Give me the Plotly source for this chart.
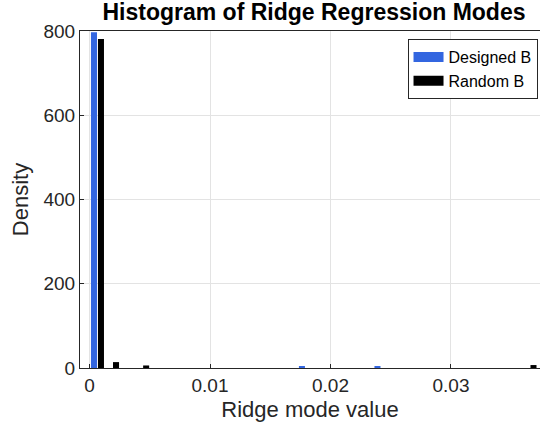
import plotly.graph_objects as go

# Data
designed_x = [0.00037, 0.01763, 0.0239]
designed_y = [797, 4, 4]
random_x = [0.00095, 0.0022, 0.0047, 0.03685]
random_y = [781, 14, 6, 7]
x_ticks = [0, 0.01, 0.02, 0.03]
x_tick_labels = ["0", "0.01", "0.02", "0.03"]
y_ticks = [0, 200, 400, 600, 800]

BLUE = "#3366e0"
BLACK = "#000000"
BAR_W = 0.0005
FONT = "Liberation Sans, Arial, Helvetica, sans-serif"

fig = go.Figure()
fig.add_trace(go.Bar(x=designed_x, y=designed_y, width=[BAR_W]*len(designed_x),
                     name="Designed B", showlegend=False, legendgroup="d",
                     marker=dict(color=BLUE, line=dict(width=0))))
fig.add_trace(go.Bar(x=random_x, y=random_y, width=[BAR_W]*len(random_x),
                     name="Random B", showlegend=False, legendgroup="r",
                     marker=dict(color=BLACK, line=dict(width=0))))
# legend entries with wide rectangular swatches
fig.add_trace(go.Scatter(x=[None], y=[None], mode="lines", name="Designed B",
                         legendgroup="d", line=dict(color=BLUE, width=14)))
fig.add_trace(go.Scatter(x=[None], y=[None], mode="lines", name="Random B",
                         legendgroup="r", line=dict(color=BLACK, width=14)))

fig.update_layout(
    width=540, height=429,
    margin=dict(l=80, r=0, t=31, b=61),
    paper_bgcolor="white", plot_bgcolor="white",
    barmode="overlay",
    font=dict(family=FONT, color="#262626"),
    title=dict(text="<b>Histogram of Ridge Regression Modes</b>",
               x=314 / 540, xanchor="center",
               y=1 - 12 / 429, yanchor="middle",
               font=dict(size=23, color="#000000")),
    showlegend=True,
    legend=dict(x=0.712, y=0.976, xanchor="left", yanchor="top",
                bordercolor="#262626", borderwidth=1, bgcolor="white",
                font=dict(size=16, color="#000000"),
                tracegroupgap=0, itemwidth=30),
    xaxis=dict(range=[-0.00079, 0.03739], tickvals=x_ticks, ticktext=x_tick_labels,
               showgrid=True, gridcolor="#e3e3e3", gridwidth=1,
               showline=True, linecolor="#262626", linewidth=1, mirror=True,
               ticks="inside", ticklen=4, tickcolor="#262626",
               tickfont=dict(size=19), zeroline=False,
               title=dict(text="Ridge mode value", font=dict(size=22), standoff=6)),
    yaxis=dict(range=[0, 800], tickvals=y_ticks,
               showgrid=True, gridcolor="#e3e3e3", gridwidth=1,
               showline=True, linecolor="#262626", linewidth=1, mirror=True,
               ticks="inside", ticklen=4, tickcolor="#262626",
               tickfont=dict(size=19), zeroline=False,
               title=dict(text="Density", font=dict(size=22), standoff=8)),
)

fig.write_html("out.html")
